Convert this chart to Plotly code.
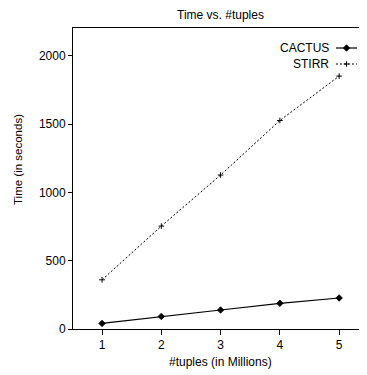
import plotly.graph_objects as go

# ---- data ----
x_vals = [1, 2, 3, 4, 5]
cactus = [41, 92, 139, 188, 227]
stirr = [360, 753, 1127, 1526, 1851]
x_ticks = [1, 2, 3, 4, 5]
y_ticks = [0, 500, 1000, 1500, 2000]
series_names = ["CACTUS", "STIRR"]

# ---- layout constants (page body has an 8px margin, so figure is offset) ----
OFF = 8
W, H = 367 - OFF, 375 - OFF
L, R, T, B = 73 - OFF, 0, 28 - OFF, 46
PW, PH = W - L - R, H - T - B
FONT = "Liberation Sans, Arial, Helvetica, sans-serif"
FS = 12
BLACK = "black"

def px_x(px):  # reference pixel x -> paper
    return (px - OFF - L) / PW

def px_y(py):  # reference pixel y -> paper
    return (H - B - (py - OFF)) / PH

fig = go.Figure()

styles = [
    dict(line=dict(color=BLACK, width=1.2),
         marker=dict(symbol="diamond", size=5, color=BLACK, line=dict(color=BLACK, width=0.8))),
    dict(line=dict(color=BLACK, width=1, dash="2px,2px"),
         marker=dict(symbol="cross-thin", size=4, color=BLACK, line=dict(color=BLACK, width=1))),
]

for name, ys, st in zip(series_names, [cactus, stirr], styles):
    fig.add_trace(go.Scatter(x=x_vals, y=ys, mode="lines+markers", name=name,
                             showlegend=False, line=st["line"], marker=st["marker"],
                             cliponaxis=False))

# legend keys (gnuplot style: text left, sample right) on an overlay pixel axis
leg_rows_y = [48 - 28, 64 - 28]
key_x0, key_x1 = 336 - 73, 357 - 73
for name, st, ly in zip(series_names, styles, leg_rows_y):
    fig.add_trace(go.Scatter(x=[key_x0, key_x1], y=[ly, ly], mode="lines",
                             line=st["line"], xaxis="x2", yaxis="y2",
                             showlegend=False, hoverinfo="skip"))
    fig.add_trace(go.Scatter(x=[(key_x0 + key_x1) / 2], y=[ly], mode="markers",
                             marker=st["marker"], xaxis="x2", yaxis="y2",
                             showlegend=False, hoverinfo="skip"))
    fig.add_annotation(x=331 - 73, y=ly, xref="x2", yref="y2", text=name,
                       showarrow=False, xanchor="right", yanchor="middle",
                       font=dict(family=FONT, size=FS, color=BLACK))

fig.update_layout(
    width=W, height=H,
    margin=dict(l=L, r=R, t=T, b=B),
    paper_bgcolor="white", plot_bgcolor="white",
    font=dict(family=FONT, size=FS, color=BLACK),
    showlegend=False,
    xaxis=dict(range=[0.51, 5.47], tickvals=x_ticks, ticktext=[str(v) for v in x_ticks],
               showgrid=False, zeroline=False, showline=True, linecolor=BLACK, linewidth=1,
               mirror=True, ticks="outside", ticklen=5, tickcolor=BLACK, tickwidth=1,
               tickfont=dict(family=FONT, size=FS, color=BLACK)),
    yaxis=dict(range=[0, 2203], tickvals=y_ticks, ticktext=[str(v) for v in y_ticks],
               showgrid=False, zeroline=False, showline=True, linecolor=BLACK, linewidth=1,
               mirror=False, ticks="outside", ticklen=4, tickcolor=BLACK, tickwidth=1,
               tickfont=dict(family=FONT, size=FS, color=BLACK)),
    xaxis2=dict(range=[0, PW], overlaying="x", visible=False, fixedrange=True),
    yaxis2=dict(range=[PH, 0], overlaying="y", visible=False, fixedrange=True),
    annotations=list(fig.layout.annotations) + [
        dict(text="Time vs. #tuples", x=px_x(220), y=px_y(15.5), xref="paper", yref="paper",
             showarrow=False, xanchor="center", yanchor="middle",
             font=dict(family=FONT, size=FS, color=BLACK)),
        dict(text="#tuples (in Millions)", x=px_x(220), y=px_y(362), xref="paper", yref="paper",
             showarrow=False, xanchor="center", yanchor="middle",
             font=dict(family=FONT, size=FS, color=BLACK)),
        dict(text="Time (in seconds)", x=px_x(18), y=px_y(159), xref="paper", yref="paper",
             showarrow=False, xanchor="center", yanchor="middle", textangle=-90,
             font=dict(family=FONT, size=11.5, color=BLACK)),
    ],
)

fig.write_html("out.html")
